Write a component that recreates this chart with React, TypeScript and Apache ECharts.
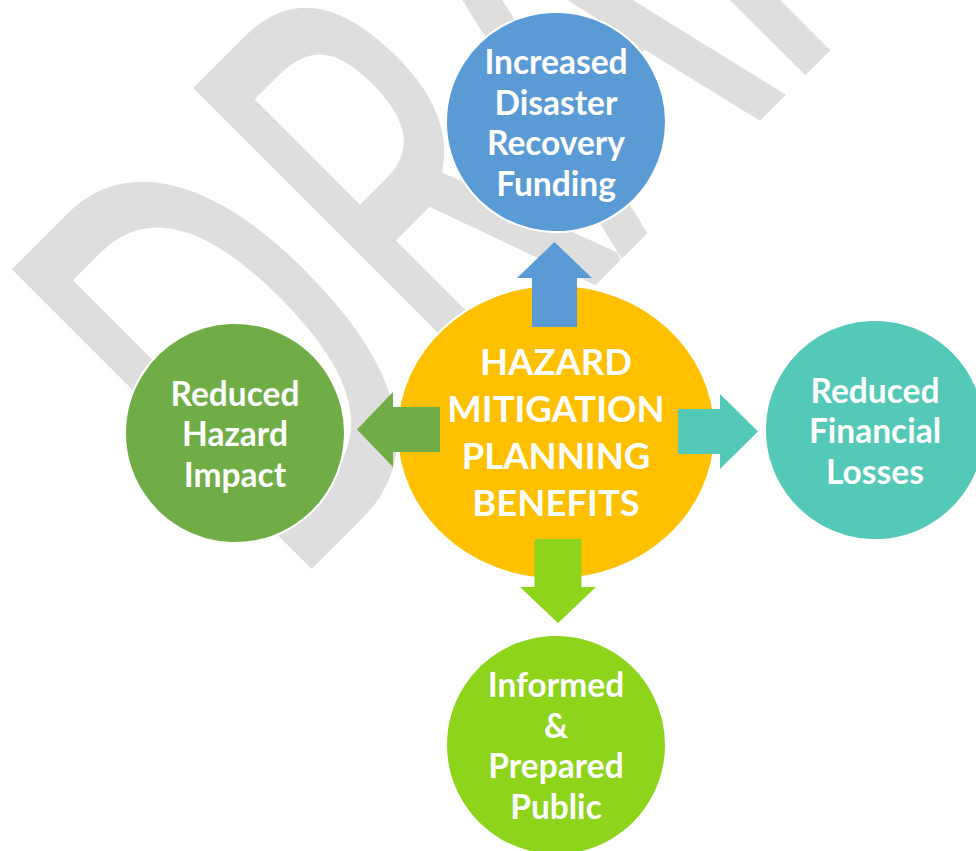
import React, { useEffect, useRef } from "react";
import * as echarts from "echarts";

// ---- content ----
const centerLines = ["HAZARD", "MITIGATION", "PLANNING", "BENEFITS"];
const benefitLabels = [
  ["Increased", "Disaster", "Recovery", "Funding"],
  ["Reduced", "Hazard", "Impact"],
  ["Reduced", "Financial", "Losses"],
  ["Informed", "&", "Prepared", "Public"],
];
const benefitDirections = ["up", "left", "right", "down"];
const benefitColors = ["#5B9BD5", "#70AD47", "#54C9B7", "#8DD41B"];
const centerColor = "#FFC000";
const watermarkText = "DRAFT";

// ---- layout (pixels) ----
const CENTER = { x: 556, y: 432, rx: 159, ry: 147 };
const NODE_R = 110;
const NODE_POS: Record<string, [number, number]> = {
  up: [556, 122],
  left: [235, 433],
  right: [875, 430],
  down: [556, 745],
};
// arrow geometry: [start offset, head base offset, tip offset, cross offset, shaft w, head w]
const ARROW: Record<string, number[]> = {
  up: [105, 154, 190, -1.5, 45, 75],
  left: [116, 163, 199, -2.5, 45, 75],
  right: [122, 164, 202, -0.5, 45, 75],
  down: [107, 155, 191, 2, 47, 76],
};

function arrowPoints(dir: string): number[][] {
  const [s, b, t, c, sw, hw] = ARROW[dir];
  const local = [
    [s, -sw / 2],
    [b, -sw / 2],
    [b, -hw / 2],
    [t, 0],
    [b, hw / 2],
    [b, sw / 2],
    [s, sw / 2],
  ];
  return local.map(([a, p]) => {
    const pp = p + c;
    if (dir === "right") return [CENTER.x + a, CENTER.y + pp];
    if (dir === "left") return [CENTER.x - a, CENTER.y + pp];
    if (dir === "up") return [CENTER.x + pp, CENTER.y - a];
    return [CENTER.x + pp, CENTER.y + a];
  });
}

export default function App() {
  const ref = useRef<HTMLDivElement>(null);
  useEffect(() => {
    if (!ref.current) return;
    const chart = echarts.init(ref.current, null, { renderer: "svg" });
    const elements: any[] = [];

    elements.push({
      type: "text",
      x: 127,
      y: 429,
      rotation: (45 * Math.PI) / 180,
      scaleX: 0.61,
      scaleY: 1,
      z: 0,
      silent: true,
      style: {
        text: watermarkText,
        fontSize: 580,
        fontFamily: "Open Sans",
        fill: "#dedede",
        stroke: "#dedede",
        lineWidth: 10,
        lineJoin: "round",
        textAlign: "left",
        textVerticalAlign: "middle",
        align: "left",
        verticalAlign: "middle",
      },
    });

    elements.push({
      type: "ellipse",
      z: 1,
      shape: { cx: CENTER.x, cy: CENTER.y, rx: CENTER.rx, ry: CENTER.ry },
      style: { fill: centerColor, stroke: "#ffffff", lineWidth: 2 },
    });

    benefitDirections.forEach((dir, i) => {
      const [cx, cy] = NODE_POS[dir];
      elements.push({
        type: "circle",
        z: 1,
        shape: { cx, cy, r: NODE_R },
        style: { fill: benefitColors[i], stroke: "#ffffff", lineWidth: 2 },
      });
      elements.push({
        type: "polygon",
        z: 2,
        shape: { points: arrowPoints(dir) },
        style: { fill: benefitColors[i] },
      });
      elements.push({
        type: "text",
        z: 3,
        x: cx,
        y: cy,
        style: {
          text: benefitLabels[i].join("\n"),
          fontSize: 33.5,
          fontWeight: "bold",
          fontFamily: "Lato",
          lineHeight: 40.5,
          fill: "#ffffff",
          textAlign: "center",
          textVerticalAlign: "middle",
          align: "center",
          verticalAlign: "middle",
        },
      });
    });

    elements.push({
      type: "text",
      z: 3,
      x: CENTER.x,
      y: CENTER.y - 1,
      style: {
        text: centerLines.join("\n"),
        fontSize: 36.5,
        fontWeight: "bold",
        fontFamily: "Lato",
        lineHeight: 47,
        fill: "#ffffff",
        textAlign: "center",
        textVerticalAlign: "middle",
        align: "center",
        verticalAlign: "middle",
      },
    });

    chart.setOption({
      animation: false,
      backgroundColor: "#ffffff",
      graphic: { elements },
    });
    return () => chart.dispose();
  }, []);
  return (
    <div
      ref={ref}
      style={{ position: "fixed", left: 0, top: 0, width: 976, height: 851, background: "#fff" }}
    />
  );
}
